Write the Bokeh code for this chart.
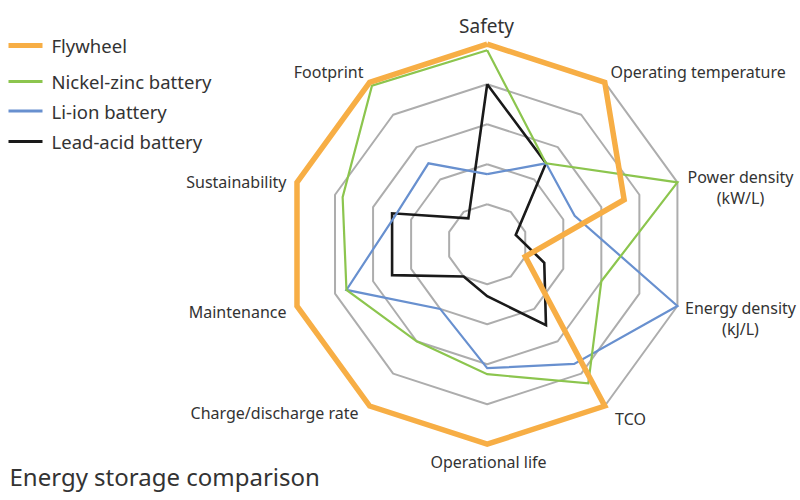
import math
from bokeh.plotting import figure
from bokeh.models import Range1d
from bokeh.core.properties import value
from bokeh.embed import file_html
from bokeh.resources import INLINE

# ---- data ----
axes_labels = ["Safety", "Operating temperature", "Power density\n(kW/L)",
               "Energy density\n(kJ/L)", "TCO", "Operational life",
               "Charge/discharge rate", "Maintenance", "Sustainability", "Footprint"]
series_names = ["Flywheel", "Nickel-zinc battery", "Li-ion battery", "Lead-acid battery"]
flywheel = [5.0, 5.0, 3.6, 1.0, 5.0, 5.0, 5.0, 5.0, 5.0, 5.0]
nickel_zinc = [4.85, 2.5, 5.0, 3.0, 4.3, 3.25, 3.0, 3.7, 3.8, 4.9]
li_ion = [1.75, 2.5, 2.3, 5.0, 3.7, 3.1, 2.0, 3.7, 2.4, 2.5]
lead_acid = [4.0, 2.5, 0.75, 1.5, 2.5, 1.3, 1.0, 2.5, 2.5, 0.8]
ring_levels = [1, 2, 3, 4, 5]
title_text = "Energy storage comparison"

# ---- layout ----
W, H = 800, 500
CX, CY = 486.7, 243.7       # image coords
UNIT = 40.0                 # px per unit
FONT = "Noto Sans"
TXT = "#333333"

colors = ["#F7AE45", "#8CC54E", "#6890CF", "#1A1A1A"]
widths = [5.5, 2.2, 2.2, 2.6]

p = figure(width=W, height=H, output_backend="svg", toolbar_location=None,
           x_range=Range1d(0, W), y_range=Range1d(H, 0),
           min_border=0, outline_line_color=None)
p.axis.visible = False
p.grid.visible = False
p.background_fill_color = "white"

n = len(axes_labels)
angles = [2 * math.pi * i / n for i in range(n)]

def to_xy(vals):
    xs = [CX + UNIT * v * math.sin(a) for v, a in zip(vals, angles)]
    ys = [CY - UNIT * v * math.cos(a) for v, a in zip(vals, angles)]
    return xs + xs[:1], ys + ys[:1]

# grid rings
for lv in ring_levels:
    xs, ys = to_xy([lv] * n)
    p.line(xs, ys, line_color="#ADADAD", line_width=2)

all_series = [flywheel, nickel_zinc, li_ion, lead_acid]
order = [3, 2, 1, 0]
for i in order:
    xs, ys = to_xy(all_series[i])
    p.line(xs, ys, line_color=colors[i], line_width=widths[i], line_join="miter")

# axis labels: (x, y, align, size)
label_pos = [
    (486, 25.5, "center", "19px"),
    (610, 71, "left", "16px"),
    (740, 176, "center", "16px"),
    (740, 307, "center", "16px"),
    (630, 418, "center", "16px"),
    (488, 461, "center", "16px"),
    (358, 412, "right", "16px"),
    (286, 311, "right", "16px"),
    (286, 181, "right", "16px"),
    (363, 71, "right", "16px"),
]
line_gap = 21
for lab, (x, y, al, fs) in zip(axes_labels, label_pos):
    parts = lab.split("\n")
    for k, part in enumerate(parts):
        p.text(x=[x], y=[y + k * line_gap], text=[part], text_align=al,
               text_baseline="middle", text_font=value(FONT),
               text_font_size=fs, text_color=TXT)

# legend
leg_y = [45, 81, 110.5, 141]
for i, name in enumerate(series_names):
    p.line([8, 42], [leg_y[i], leg_y[i]], line_color=colors[i],
           line_width=5 if i == 0 else 3)
    p.text(x=[51], y=[leg_y[i]], text=[name], text_align="left",
           text_baseline="middle", text_font=value(FONT),
           text_font_size="18.5px", text_color=TXT)

# title
p.text(x=[9], y=[476], text=[title_text], text_align="left",
       text_baseline="middle", text_font=value(FONT),
       text_font_size="24px", text_color=TXT)

open("out.html", "w").write(file_html(p, INLINE))
